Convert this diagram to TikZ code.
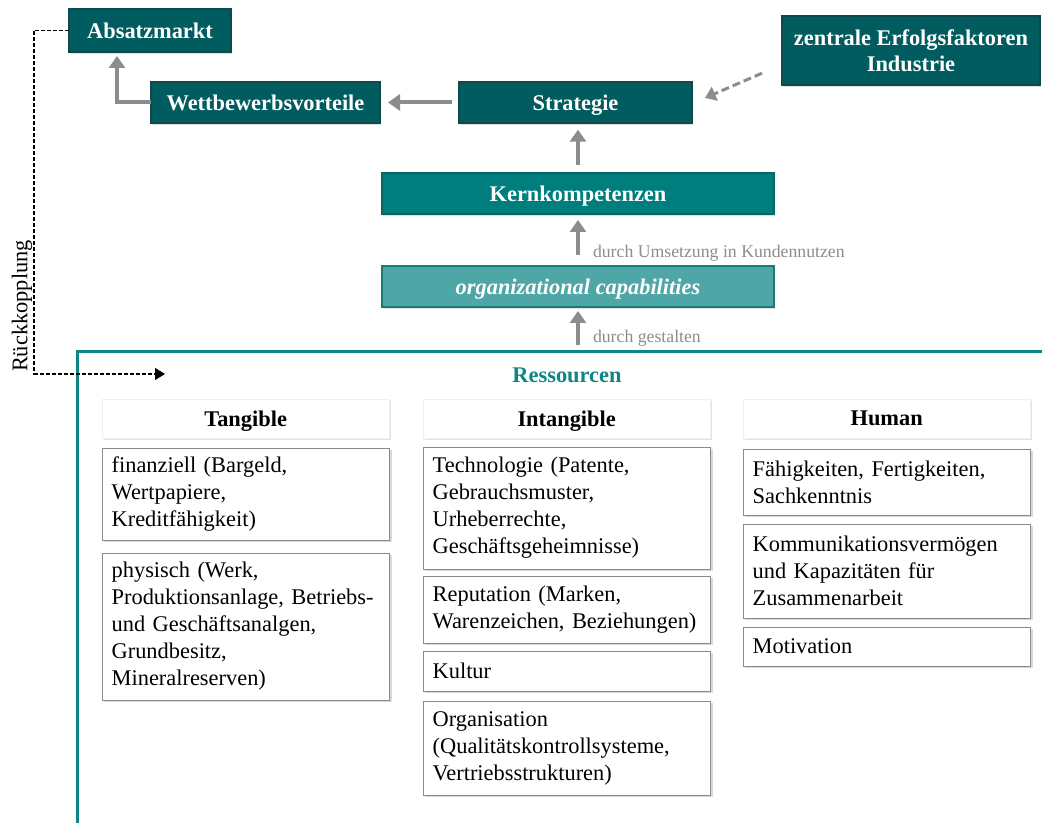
\documentclass[tikz,border=0pt]{standalone}
\usepackage{fontspec}
\setmainfont{Liberation Serif}
\usetikzlibrary{arrows.meta,shadows}

\definecolor{tealdark}{HTML}{005C5F}
\definecolor{tealedge}{HTML}{0E4A4B}
\definecolor{tealmid}{HTML}{007D7D}
\definecolor{tealmidedge}{HTML}{0C6565}
\definecolor{teallight}{HTML}{4FA6A7}
\definecolor{teallightedge}{HTML}{1A7A7A}
\definecolor{framecol}{HTML}{0E8686}
\definecolor{arrowcol}{HTML}{8C8C8C}
\definecolor{celledge}{HTML}{8A8A8A}

\begin{document}
\begin{tikzpicture}[x=0.75pt,y=-0.75pt,
  every node/.style={inner sep=0pt, outer sep=0pt},
  topbox/.style={draw=tealedge, line width=1.5pt, fill=tealdark, text=white,
    font=\fontsize{16.8}{19.5}\selectfont\bfseries, align=center, anchor=north west,
    text depth=0pt,
    drop shadow={shadow xshift=1pt, shadow yshift=-1.5pt, opacity=0.25}},
  midbox/.style={topbox, draw=tealmidedge, fill=tealmid},
  lightbox/.style={topbox, draw=teallightedge, fill=teallight,
    font=\fontsize{16.8}{19.5}\selectfont\bfseries\itshape},
  colhead/.style={draw=black!6, line width=0.5pt, fill=white, anchor=north west,
    minimum width=215.5pt, minimum height=29.25pt, text depth=0pt,
    font=\fontsize{16.8}{19.5}\selectfont\bfseries,
    drop shadow={shadow xshift=1.5pt, shadow yshift=-1.5pt, opacity=0.22}},
  cell/.style={draw=celledge, line width=0.75pt, fill=white, anchor=north west, align=left,
    text width=201pt, inner xsep=7.25pt, font=\fontsize{16.8}{20.25}\selectfont,
    drop shadow={shadow xshift=1.8pt, shadow yshift=-1.8pt, opacity=0.3}},
  flow/.style={draw=arrowcol, line width=3pt, -{Triangle[width=12pt,length=9pt]}},
  hint/.style={draw=arrowcol, line width=2.25pt, dash pattern=on 6pt off 3pt,
    -{Triangle[width=11pt,length=8pt]}},
  feedback/.style={draw=black, line width=0.9pt, dash pattern=on 3pt off 1.5pt,
    -{Triangle[width=9pt,length=7.5pt]}},
  note/.style={anchor=west, text=arrowcol, font=\fontsize{13.3}{16}\selectfont}
]
\useasboundingbox (0,0) rectangle (1042,823);

% upper chain of boxes
\node[topbox, minimum width=121.5pt, minimum height=32.25pt] (absatz) at (69,9) {Absatzmarkt};
\node[topbox, minimum width=171.75pt, minimum height=30.75pt] (wett) at (151,82) {Wettbewerbsvorteile};
\node[topbox, minimum width=174.75pt, minimum height=30.75pt] (strat) at (459,82) {Strategie};
\node[topbox, minimum width=193.5pt, minimum height=51.75pt] (erfolg) at (782,16)
  {zentrale Erfolgsfaktoren\\Industrie};
\node[midbox, minimum width=294pt, minimum height=30.75pt] (kern) at (382,173) {Kernkompetenzen};
\node[lightbox, minimum width=294pt, minimum height=30.75pt] (orgcap) at (382,266)
  {organizational capabilities};

% resources frame
\draw[framecol, line width=2.25pt] (77,823) -- (77,352) -- (1042,352);
\coordinate (resTop) at (578,352);
\coordinate (fbEnd) at (165,374);
\node[text=framecol, font=\fontsize{16.8}{19.5}\selectfont\bfseries] (res) at (567,375) {Ressourcen};

% column headers
\node[colhead] (hTang) at (102,399) {Tangible};
\node[colhead] (hIntang) at (423,399) {Intangible};
\node[colhead] (hHuman) at (743,399) {Human};

% tangible resources
\node[cell, minimum height=69pt] (fin) at (102,448)
  {finanziell (Bargeld,\\Wertpapiere,\\Kreditfähigkeit)};
\node[cell, minimum height=110.25pt] (phys) at (102,553)
  {physisch (Werk,\\Produktionsanlage, Betriebs-\\und Geschäftsanalgen,\\Grundbesitz,\\Mineralreserven)};

% intangible resources
\node[cell, minimum height=91.5pt] (tech) at (423,447)
  {Technologie (Patente,\\Gebrauchsmuster,\\Urheberrechte,\\Geschäftsgeheimnisse)};
\node[cell, minimum height=50.25pt] (repu) at (423,576)
  {Reputation (Marken,\\Warenzeichen, Beziehungen)};
\node[cell, minimum height=30pt] (kult) at (423,651) {Kultur};
\node[cell, minimum height=70.5pt] (orga) at (423,701)
  {Organisation\\(Qualitätskontrollsysteme,\\Vertriebsstrukturen)};

% human resources
\node[cell, minimum height=49.5pt] (faeh) at (743,449)
  {Fähigkeiten, Fertigkeiten,\\Sachkenntnis};
\node[cell, minimum height=70.5pt] (komm) at (743,524)
  {Kommunikationsvermögen\\und Kapazitäten für\\Zusammenarbeit};
\node[cell, minimum height=29.25pt] (moti) at (743,627) {Motivation};

% connectors
\draw[flow] (wett.west) -| ([xshift=36pt,yshift=-3pt]absatz.south west);
\draw[flow] ([xshift=-5pt]strat.west) -- ([xshift=6pt]wett.east);
\path (kern.north |- strat.south) coordinate (stratIn);
\draw[flow] ([yshift=6pt]kern.north) -- ([yshift=-5pt]stratIn);
\draw[flow] ([yshift=8pt]orgcap.north) -- ([yshift=-4.5pt]kern.south);
\draw[flow] ([yshift=5pt]resTop) -- ([yshift=-3pt]orgcap.south);
\draw[hint] ([xshift=-15pt,yshift=-17pt]erfolg.west) -- ([xshift=9.75pt,yshift=3.4pt]strat.east);
\draw[feedback] (absatz.west) -- ++(-35,0) |- (fbEnd);

% labels
\node[note] (lblKunde) at (593,253) {durch Umsetzung in Kundennutzen};
\node[note] (lblGestalt) at (593,338) {durch gestalten};
\node[rotate=90, font=\fontsize{16.8}{19.5}\selectfont] (rueck) at (22,306) {Rückkopplung};
\end{tikzpicture}
\end{document}
